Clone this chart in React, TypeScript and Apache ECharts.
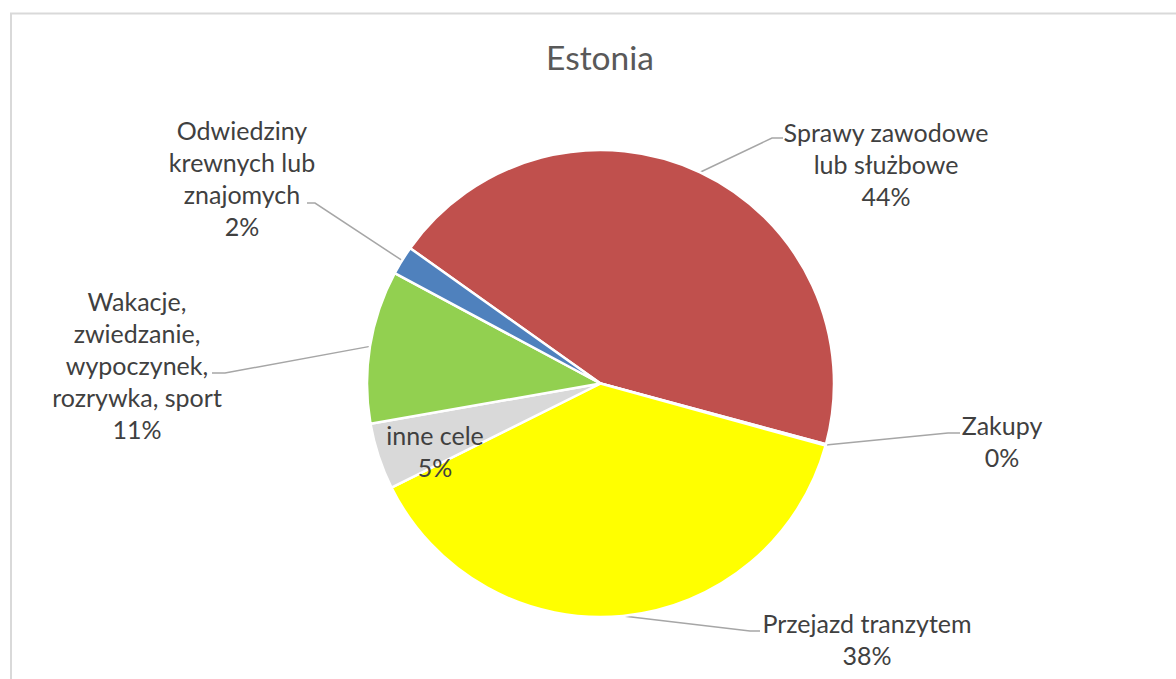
import React, { useEffect, useRef } from "react";
import * as echarts from "echarts";

const title = "Estonia";
const categories = [
  "Sprawy zawodowe\nlub służbowe",
  "Zakupy",
  "Przejazd tranzytem",
  "inne cele",
  "Wakacje,\nzwiedzanie,\nwypoczynek,\nrozrywka, sport",
  "Odwiedziny\nkrewnych lub\nznajomych",
];
const values = [44.4, 0.1, 38.4, 4.6, 10.6, 2.0];
const colors = ["#C0504D", "#F79646", "#FFFF00", "#D9D9D9", "#92D050", "#4F81BD"];

// label layout (center x, top y) and leader elbow points (not data)
const labelPos: [number, number][] = [
  [886, 116],
  [1002, 409],
  [867, 607],
  [435, 419],
  [137, 285],
  [242, 114],
];
const elbows: ([number, number][] | null)[] = [
  [[772, 138], [783, 138]],
  [[948, 433], [960, 433]],
  [[750, 631], [760, 631]],
  null,
  [[225, 373], [212, 373]],
  [[315, 203], [307, 203]],
];

export default function App() {
  const ref = useRef<HTMLDivElement>(null);
  useEffect(() => {
    if (!ref.current) return;
    const chart = echarts.init(ref.current, null, { renderer: "svg" });
    const font = "Lato, 'Open Sans', sans-serif";
    chart.setOption({
      animation: false,
      backgroundColor: "#ffffff",
      title: {
        text: title,
        left: 600,
        top: 40,
        padding: 0,
        textAlign: "center",
        textStyle: { fontFamily: font, fontSize: 33.5, fontWeight: "normal", color: "#595959" },
      },
      graphic: [
        {
          type: "rect",
          shape: { x: 11, y: 13.5, width: 1300, height: 800 },
          style: { fill: "none", stroke: "#D9D9D9", lineWidth: 2 },
          silent: true,
          z: -1,
        },
      ],
      series: [
        {
          type: "pie",
          center: [600.5, 383.5],
          radius: 233.5,
          startAngle: 144.6,
          clockwise: true,
          avoidLabelOverlap: false,
          itemStyle: { borderColor: "#ffffff", borderWidth: 2.5 },
          label: {
            show: true,
            fontFamily: font,
            fontSize: 25,
            lineHeight: 32,
            color: "#404040",
            align: "center",
            formatter: (p: any) => `${p.name}\n${Math.round(p.percent)}%`,
          },
          labelLine: {
            show: true,
            lineStyle: { color: "#A6A6A6", width: 1.5 },
          },
          labelLayout: (p: any) => {
            const i = p.dataIndex;
            const [x, y] = labelPos[i];
            const res: any = { x, y, align: "center", verticalAlign: "top" };
            const el = elbows[i];
            if (el && p.labelLinePoints) {
              res.labelLinePoints = [p.labelLinePoints[0], el[0], el[1]];
            }
            return res;
          },
          data: categories.map((name, i) => ({
            name,
            value: values[i],
            itemStyle: { color: colors[i] },
            labelLine: { show: elbows[i] !== null },
          })),
        },
      ],
    });
    return () => chart.dispose();
  }, []);
  return (
    <div
      ref={ref}
      style={{ position: "fixed", left: 0, top: 0, width: 1176, height: 679 }}
    />
  );
}
